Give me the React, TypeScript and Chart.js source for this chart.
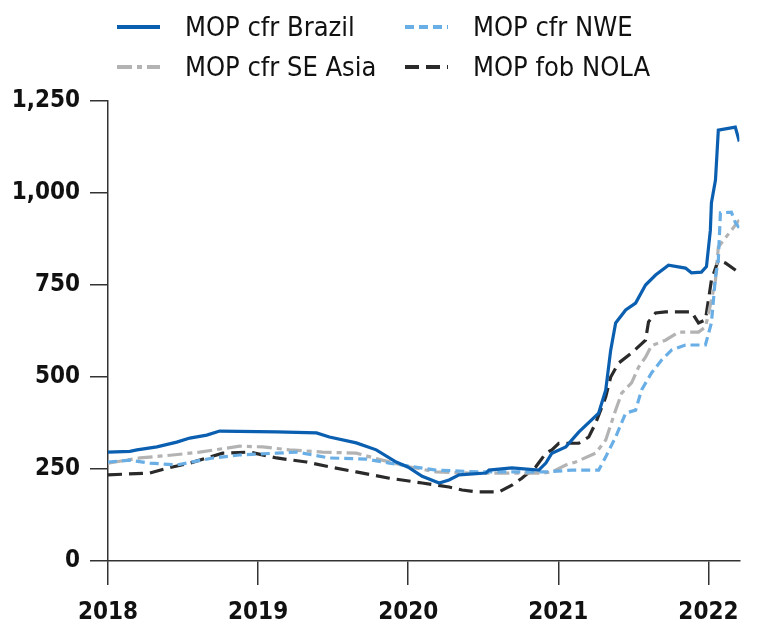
import React, { useEffect, useRef } from "react";
import { Chart, registerables } from "chart.js";

Chart.register(...registerables);

// x values are decimal years
const brazilX = [2018.0, 2018.146, 2018.193, 2018.326, 2018.458, 2018.545, 2018.658, 2018.744, 2019.123, 2019.389, 2019.475, 2019.654, 2019.787, 2019.92, 2020.0, 2020.093, 2020.206, 2020.272, 2020.339, 2020.518, 2020.538, 2020.691, 2020.87, 2020.917, 2020.957, 2021.05, 2021.136, 2021.269, 2021.316, 2021.349, 2021.382, 2021.449, 2021.515, 2021.581, 2021.648, 2021.734, 2021.847, 2021.887, 2021.953, 2021.987, 2022.013, 2022.02, 2022.047, 2022.066, 2022.179, 2022.206];
const brazilY = [296, 298, 302, 310, 323, 334, 342, 353, 351, 348, 337, 321, 302, 269, 255, 230, 212, 220, 234, 239, 247, 253, 247, 266, 293, 310, 350, 402, 465, 573, 647, 682, 701, 750, 777, 804, 796, 783, 785, 800, 899, 973, 1035, 1171, 1179, 1140];

const nweX = [2018.0, 2018.146, 2018.279, 2018.458, 2018.698, 2018.877, 2019.123, 2019.256, 2019.475, 2019.721, 2019.874, 2020.186, 2020.472, 2020.917, 2021.09, 2021.269, 2021.316, 2021.382, 2021.449, 2021.515, 2021.555, 2021.621, 2021.688, 2021.754, 2021.847, 2021.98, 2022.02, 2022.047, 2022.066, 2022.08, 2022.153, 2022.179, 2022.206];
const nweY = [269, 274, 266, 261, 280, 288, 293, 296, 280, 277, 266, 247, 242, 242, 247, 247, 283, 337, 402, 410, 465, 511, 546, 573, 587, 587, 647, 772, 818, 946, 948, 920, 905];

const seAsiaX = [2018.0, 2018.213, 2018.432, 2018.611, 2018.877, 2019.03, 2019.209, 2019.429, 2019.654, 2019.827, 2020.007, 2020.186, 2020.4, 2020.9, 2020.957, 2021.05, 2021.116, 2021.249, 2021.316, 2021.382, 2021.422, 2021.488, 2021.535, 2021.581, 2021.621, 2021.714, 2021.801, 2021.934, 2021.98, 2022.0, 2022.047, 2022.066, 2022.206];
const seAsiaY = [266, 280, 288, 296, 312, 310, 302, 296, 293, 274, 256, 242, 239, 239, 242, 261, 269, 293, 329, 410, 456, 484, 527, 554, 585, 600, 622, 622, 636, 670, 763, 853, 927];

const nolaX = [2018.0, 2018.279, 2018.392, 2018.545, 2018.764, 2018.944, 2019.123, 2019.322, 2019.475, 2019.654, 2019.874, 2020.093, 2020.272, 2020.359, 2020.452, 2020.605, 2020.691, 2020.757, 2020.85, 2020.917, 2020.957, 2021.003, 2021.136, 2021.203, 2021.249, 2021.316, 2021.349, 2021.402, 2021.488, 2021.581, 2021.601, 2021.648, 2021.714, 2021.887, 2021.934, 2021.98, 2022.02, 2022.066, 2022.113, 2022.206];
const nolaY = [234, 239, 252, 266, 293, 296, 280, 269, 256, 242, 225, 212, 201, 193, 188, 188, 206, 225, 256, 293, 302, 320, 320, 337, 375, 446, 500, 538, 565, 600, 650, 674, 677, 677, 647, 655, 763, 818, 810, 783];

const yearTicks = [2018, 2019, 2020, 2021, 2022];
const xMin = 2018;
const xMax = 2022.206;
const yTicks = [0, 250, 500, 750, 1000, 1250];

const seriesNames = ["MOP cfr Brazil", "MOP cfr NWE", "MOP cfr SE Asia", "MOP fob NOLA"];
const seriesColors = ["#0B5FB0", "#6AAEE6", "#B3B3B3", "#2A2A2A"];
const seriesDash: number[][] = [[], [9, 5], [15, 5, 5, 5], [14, 7]];

const pts = (xs: number[], ys: number[]) => xs.map((x, i) => ({ x, y: ys[i] }));

const FONT = "'DejaVu Sans Condensed', 'DejaVu Sans', sans-serif";

function LegendItem({ idx, left, top }: { idx: number; left: number; top: number }) {
  const dash = seriesDash[idx].length ? seriesDash[idx].join(" ") : undefined;
  return (
    <div
      style={{
        position: "absolute",
        left,
        top,
        height: 30,
        display: "flex",
        alignItems: "center",
        whiteSpace: "nowrap",
      }}
    >
      <svg width={43} height={8} style={{ marginRight: 25, display: "block" }}>
        <line
          x1={0}
          y1={4}
          x2={43}
          y2={4}
          stroke={seriesColors[idx]}
          strokeWidth={4}
          strokeDasharray={dash}
        />
      </svg>
      <span style={{ fontFamily: FONT, fontSize: 27, color: "#111", lineHeight: "30px" }}>
        {seriesNames[idx]}
      </span>
    </div>
  );
}

export default function App() {
  const ref = useRef<HTMLCanvasElement | null>(null);

  useEffect(() => {
    if (!ref.current) return;
    const data = [pts(brazilX, brazilY), pts(nweX, nweY), pts(seAsiaX, seAsiaY), pts(nolaX, nolaY)];
    const chart = new Chart(ref.current, {
      type: "line",
      data: {
        datasets: data.map((d, i) => ({
          label: seriesNames[i],
          data: d,
          borderColor: seriesColors[i],
          backgroundColor: seriesColors[i],
          borderWidth: 3.2,
          borderDash: seriesDash[i],
          pointRadius: 0,
          tension: 0,
          fill: false,
        })),
      },
      options: {
        responsive: false,
        animation: false,
        events: [],
        layout: { padding: { top: 93, right: 11, left: 0, bottom: 0 } },
        plugins: {
          legend: { display: false },
          tooltip: { enabled: false },
        },
        scales: {
          x: {
            type: "linear",
            min: xMin,
            max: xMax,
            afterBuildTicks: (s: any) => {
              s.ticks = yearTicks.map((v) => ({ value: v }));
            },
            afterFit: (s: any) => {
              s.height = 66;
            },
            grid: {
              display: true,
              drawOnChartArea: false,
              drawTicks: true,
              tickLength: 24,
              color: "#333",
              lineWidth: 1.5,
            },
            border: { display: true, color: "#333", width: 1.5 },
            ticks: {
              autoSkip: false,
              maxRotation: 0,
              padding: 13,
              color: "#111",
              font: { family: FONT, size: 24, weight: "bold" },
              callback: (v: any) => String(v),
            },
          },
          y: {
            min: 0,
            max: 1250,
            afterBuildTicks: (s: any) => {
              s.ticks = yTicks.map((v) => ({ value: v }));
            },
            afterFit: (s: any) => {
              s.width = 100;
            },
            grid: {
              display: true,
              drawOnChartArea: false,
              drawTicks: true,
              tickLength: 18,
              color: "#333",
              lineWidth: 1.5,
            },
            border: { display: true, color: "#333", width: 1.5 },
            ticks: {
              padding: 10,
              color: "#111",
              font: { family: FONT, size: 24, weight: "bold" },
              callback: (v: any) => Number(v).toLocaleString("en-US"),
            },
          },
        },
      },
    });
    return () => chart.destroy();
  }, []);

  return (
    <div style={{ position: "relative", width: 744, height: 619 }}>
      <canvas ref={ref} width={744} height={619} style={{ display: "block" }} />
      <LegendItem idx={0} left={109} top={4} />
      <LegendItem idx={1} left={397} top={4} />
      <LegendItem idx={2} left={109} top={44} />
      <LegendItem idx={3} left={397} top={44} />
    </div>
  );
}
